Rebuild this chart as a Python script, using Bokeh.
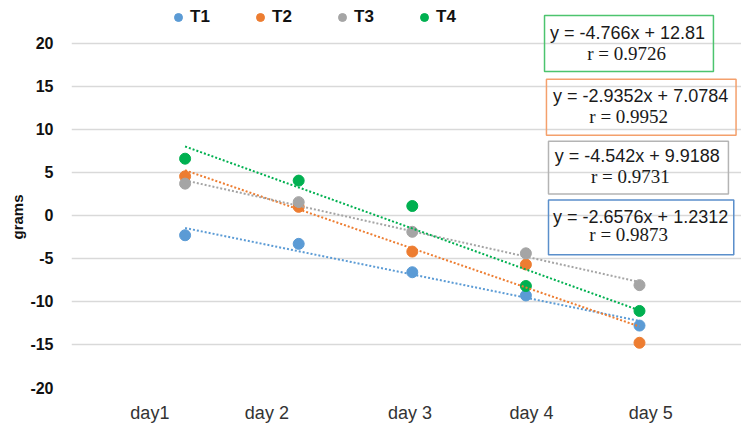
import numpy as np
from bokeh.plotting import figure
from bokeh.models import Label, BoxAnnotation, FixedTicker, Legend, LegendItem, Title
from bokeh.embed import file_html
from bokeh.resources import INLINE

# ---- data ----
days = [1, 2, 3, 4, 5]
day_labels = ["day1", "day 2", "day 3", "day 4", "day 5"]
day_label_pos = [0.69, 1.72, 2.98, 4.05, 5.10]
series_names = ["T1", "T2", "T3", "T4"]
t1 = [-2.3, -3.3, -6.6, -9.3, -12.8]
t2 = [4.55, 1.0, -4.2, -5.7, -14.8]
t3 = [3.7, 1.55, -1.9, -4.4, -8.1]
t4 = [6.6, 4.05, 1.1, -8.2, -11.1]
y_ticks = [-20, -15, -10, -5, 0, 5, 10, 15, 20]
eq_lines = [
    ("y = -4.766x + 12.81", "r = 0.9726"),
    ("y = -2.9352x + 7.0784", "r = 0.9952"),
    ("y = -4.542x + 9.9188", "r = 0.9731"),
    ("y = -2.6576x + 1.2312", "r = 0.9873"),
]

colors = ["#5B9BD5", "#ED7D31", "#A5A5A5", "#00B050"]
box_colors = ["#4CC46E", "#F4A06C", "#B4B4B4", "#5B8FCB"]

# box layout (data units): left, right, top, bottom, line1 (x,y), line2 (x,y)
box_layout = [
    (4.164, 5.651, 23.25, 16.75, (4.895, 21.25), (4.886, 18.83)),
    (4.181, 5.850, 15.83, 9.33, (5.01, 13.85), (4.905, 11.54)),
    (4.199, 5.783, 8.64, 2.49, (4.98, 6.93), (4.92, 4.52)),
    (4.199, 5.830, 1.80, -4.58, (5.01, -0.17), (4.905, -2.26)),
]

p = figure(width=741, height=425, x_range=(0, 5.898), y_range=(-20, 24.99),
           output_backend="svg", toolbar_location=None,
           min_border_left=71, min_border_right=0, min_border_top=0,
           min_border_bottom=37)
p.outline_line_color = None
p.background_fill_color = "white"
p.xgrid.visible = False
p.ygrid.ticker = FixedTicker(ticks=y_ticks)
p.ygrid.grid_line_color = "#D9D9D9"
p.ygrid.grid_line_width = 1.5

p.yaxis.ticker = FixedTicker(ticks=y_ticks)
p.yaxis.major_label_overrides = {t: str(t) for t in y_ticks}
p.yaxis.axis_line_color = None
p.yaxis.major_tick_line_color = None
p.yaxis.minor_tick_line_color = None
p.yaxis.major_tick_out = 0
p.yaxis.major_tick_in = 0
p.yaxis.major_label_standoff = 18
p.yaxis.major_label_text_font = "Liberation Sans"
p.yaxis.major_label_text_font_style = "bold"
p.yaxis.major_label_text_font_size = "16px"
p.yaxis.major_label_text_color = "#111111"

p.xaxis.ticker = FixedTicker(ticks=day_label_pos)
p.xaxis.major_label_overrides = {pos: lab for pos, lab in zip(day_label_pos, day_labels)}
p.xaxis.axis_line_color = None
p.xaxis.major_tick_line_color = None
p.xaxis.minor_tick_line_color = None
p.xaxis.major_tick_out = 0
p.xaxis.major_tick_in = 0
p.xaxis.major_label_standoff = 15
p.xaxis.major_label_text_font = "Liberation Sans"
p.xaxis.major_label_text_font_size = "18px"
p.xaxis.major_label_text_color = "#333333"

all_series = [t1, t2, t3, t4]
renderers = []
for vals, c in zip(all_series, colors):
    r = p.scatter(days, vals, size=11, color=c, line_color=c)
    renderers.append(r)

for vals, c in zip(all_series, colors):
    coef = np.polyfit(days, vals, 1)
    xs = [days[0], days[-1]]
    ys = list(np.polyval(coef, xs))
    p.line(xs, ys, line_color=c, line_width=2, line_dash="2 2")

legend = Legend(items=[LegendItem(label=n, renderers=[r]) for n, r in zip(series_names, renderers)],
                orientation="horizontal", location=(97, 360),
                glyph_width=20, glyph_height=20, label_standoff=2, label_width=20,
                label_height=20, spacing=40, padding=0, margin=0,
                border_line_color=None, background_fill_alpha=0,
                label_text_font="Liberation Sans", label_text_font_style="bold",
                label_text_font_size="17px", label_text_color="#111111")
p.add_layout(legend)

for (l, r_, t, b, pos1, pos2), bc, (ln1, ln2) in zip(box_layout, box_colors, eq_lines):
    p.add_layout(BoxAnnotation(left=l, right=r_, top=t, bottom=b,
                               fill_color=None, fill_alpha=0,
                               line_color=bc, line_alpha=1.0, line_width=1.5,
                               level="overlay"))
    p.add_layout(Label(x=pos1[0], y=pos1[1], text=ln1, text_align="center",
                       text_baseline="middle", text_font="Liberation Sans",
                       text_font_size="18px", text_color="#1a1a1a"))
    p.add_layout(Label(x=pos2[0], y=pos2[1], text=ln2, text_align="center",
                       text_baseline="middle", text_font="Liberation Serif",
                       text_font_size="19px", text_color="#1a1a1a"))

p.add_layout(Title(text="grams", align="left", offset=148,
                   text_font="Liberation Sans", text_font_style="bold",
                   text_font_size="15px", text_color="#111111", standoff=4), "left")

open("out.html", "w").write(file_html(p, INLINE))
